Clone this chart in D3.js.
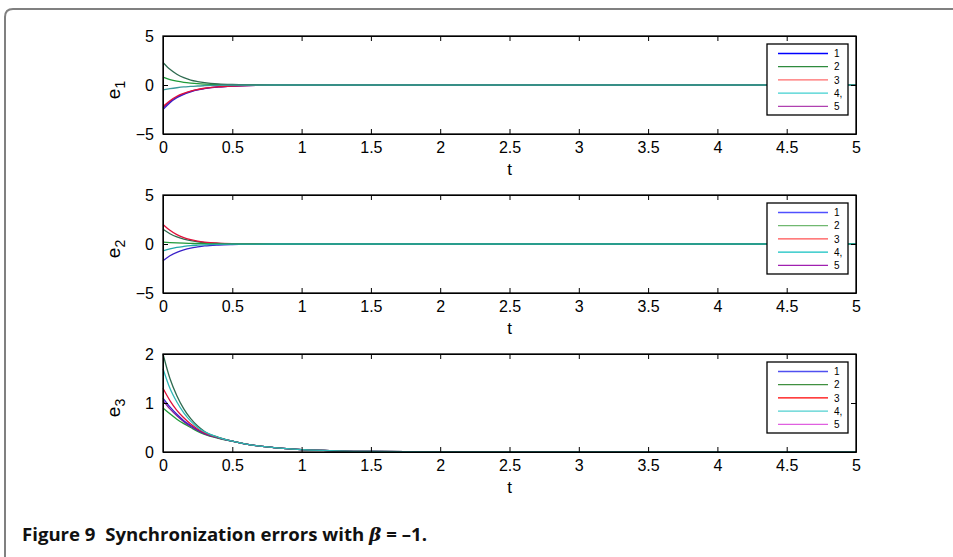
<!doctype html>
<html lang="en">
<head>
    <meta charset="utf-8">
    <title>Synchronization errors</title>
    <script src="https://cdnjs.cloudflare.com/ajax/libs/d3/7.8.5/d3.min.js"></script>
    <style>
        body { margin: 0; background: #fff; }
        svg { display: block; }
    </style>
</head>
<body>
<div id="chart"></div>
<script>

    // time samples
    var tA = [0, 0.05, 0.1, 0.15, 0.2, 0.25, 0.3, 0.4, 0.5, 0.6, 0.8, 1, 1.5, 5];
    var tB = [0, 0.05, 0.1, 0.15, 0.2, 0.25, 0.3, 0.4, 0.5, 0.6, 0.8, 1, 1.2, 1.5, 2, 5];

    // e1
    var e1DarkGreen = [2.3, 1.6, 1.1, 0.75, 0.5, 0.35, 0.24, 0.11, 0.05, 0.02, 0.005, 0, 0, 0];
    var e1Green     = [0.8, 0.56, 0.39, 0.27, 0.19, 0.13, 0.09, 0.04, 0.02, 0.01, 0, 0, 0, 0];
    var e1Red       = [-2.2, -1.6, -1.15, -0.85, -0.62, -0.46, -0.33, -0.18, -0.1, -0.05, -0.015, 0, 0, 0];
    var e1Purple    = [-2.35, -1.7, -1.22, -0.9, -0.66, -0.48, -0.35, -0.19, -0.1, -0.05, -0.015, 0, 0, 0];
    var e1Blue      = [-2.5, -1.8, -1.3, -0.95, -0.7, -0.5, -0.36, -0.19, -0.1, -0.05, -0.015, 0, 0, 0];
    var e1Teal      = [-0.5, -0.38, -0.28, -0.2, -0.15, -0.1, -0.07, -0.03, -0.015, -0.005, 0, 0, 0, 0];

    // e2
    var e2Red       = [2.0, 1.4, 0.95, 0.65, 0.45, 0.3, 0.2, 0.09, 0.04, 0.02, 0.005, 0, 0, 0];
    var e2DarkGreen = [1.5, 1.05, 0.72, 0.5, 0.34, 0.23, 0.15, 0.07, 0.03, 0.015, 0, 0, 0, 0];
    var e2Green     = [0.2, 0.15, 0.11, 0.08, 0.06, 0.04, 0.03, 0.01, 0, 0, 0, 0, 0, 0];
    var e2Blue      = [-1.7, -1.2, -0.85, -0.6, -0.42, -0.3, -0.2, -0.1, -0.05, -0.02, -0.005, 0, 0, 0];
    var e2Teal      = [-0.7, -0.5, -0.35, -0.25, -0.17, -0.12, -0.08, -0.04, -0.02, -0.01, 0, 0, 0, 0];

    // e3
    var e3DarkGreen = [2.0, 1.5, 1.15, 0.88, 0.68, 0.53, 0.42, 0.3, 0.22, 0.16, 0.09, 0.05, 0.03, 0.01, 0.003, 0];
    var e3Red       = [1.3, 1.05, 0.85, 0.7, 0.57, 0.47, 0.39, 0.29, 0.22, 0.16, 0.09, 0.05, 0.03, 0.01, 0.003, 0];
    var e3Blue      = [1.1, 0.92, 0.77, 0.64, 0.54, 0.45, 0.38, 0.29, 0.22, 0.16, 0.09, 0.05, 0.03, 0.01, 0.003, 0];
    var e3Purple    = [1.05, 0.88, 0.74, 0.62, 0.52, 0.44, 0.37, 0.29, 0.22, 0.16, 0.09, 0.05, 0.03, 0.01, 0.003, 0];
    var e3Green     = [0.9, 0.78, 0.67, 0.58, 0.5, 0.42, 0.36, 0.28, 0.22, 0.16, 0.09, 0.05, 0.03, 0.01, 0.003, 0];
    var e3Teal      = [1.7, 1.3, 1.02, 0.8, 0.63, 0.5, 0.41, 0.3, 0.22, 0.16, 0.09, 0.05, 0.03, 0.01, 0.003, 0];

    var xTicks = [0, 0.5, 1, 1.5, 2, 2.5, 3, 3.5, 4, 4.5, 5];
    var legendLabels = ["1", "2", "3", "4,", "5"];
    var legend1Colors = ["#0000ff", "#2e8b3e", "#ff6b6b", "#40d0d0", "#b040b0"];
    var legend2Colors = ["#5050ff", "#70b870", "#ff5050", "#10c0c0", "#a020b0"];
    var legend3Colors = ["#5050f0", "#409040", "#ff0000", "#50d0d0", "#e060e0"];

    var C = {dg: "#2f6b50", g: "#1f9a3a", r: "#e0103a", b: "#3a20c8", p: "#8a2090", t: "#3a9a9a"};

    var panels = [
        {top: 36, yDomain: [-5, 5], yTicks: [-5, 0, 5], sub: "1", t: tA,
         series: [[e1Purple, C.p], [e1Blue, C.b], [e1Red, C.r], [e1Green, C.g], [e1DarkGreen, C.dg], [e1Teal, C.t]],
         legend: legend1Colors},
        {top: 195, yDomain: [-5, 5], yTicks: [-5, 0, 5], sub: "2", t: tA,
         series: [[e2Blue, C.b], [e2DarkGreen, C.dg], [e2Red, C.r], [e2Green, C.g], [e2Teal, "#20a8a8"]],
         legend: legend2Colors},
        {top: 354, yDomain: [0, 2], yTicks: [0, 1, 2], sub: "3", t: tB,
         series: [[e3Green, C.g], [e3Purple, C.p], [e3Blue, C.b], [e3Red, C.r], [e3DarkGreen, C.dg], [e3Teal, "#30b8b8"]],
         legend: legend3Colors}
    ];

    var width = 953, height = 557;
    var x0 = 163, x1 = 856, ph = 98;
    var FONT = "'Liberation Sans', Arial, sans-serif";

    var svg = d3.select("#chart").append("svg")
        .attr("width", width)
        .attr("height", height);

    // figure frame (rounded top-left corner)
    svg.append("path")
        .attr("d", "M5,560 V17 Q5,9 13,9 H955")
        .attr("fill", "none")
        .attr("stroke", "#808080")
        .attr("stroke-width", 2);

    var x = d3.scaleLinear().domain([0, 5]).range([x0, x1]);

    panels.forEach(function(p) {
        var y = d3.scaleLinear().domain(p.yDomain).range([p.top + ph, p.top]);
        var g = svg.append("g");

        var line = d3.line()
            .x(function(d) { return x(d[0]); })
            .y(function(d) { return y(d[1]); })
            .curve(d3.curveMonotoneX);

        p.series.forEach(function(s) {
            g.append("path")
                .datum(p.t.map(function(tv, i) { return [tv, s[0][i]]; }))
                .attr("d", line)
                .attr("fill", "none")
                .attr("stroke", s[1])
                .attr("stroke-width", 1.3);
        });

        // axes, MATLAB style: ticks pointing inward on all sides
        g.append("g")
            .attr("transform", "translate(0," + (p.top + ph) + ")")
            .call(d3.axisBottom(x).tickValues(xTicks).tickFormat(d3.format("")).tickSize(-5).tickSizeOuter(0).tickPadding(8))
            .attr("font-size", 16).attr("font-family", FONT);
        g.append("g")
            .attr("transform", "translate(0," + p.top + ")")
            .call(d3.axisTop(x).tickValues(xTicks).tickFormat("").tickSize(-5).tickSizeOuter(0));
        g.append("g")
            .attr("transform", "translate(" + x0 + ",0)")
            .call(d3.axisLeft(y).tickValues(p.yTicks).tickFormat(function(d) { return d < 0 ? "\u2212" + Math.abs(d) : d; }).tickSize(-5).tickSizeOuter(0).tickPadding(9))
            .attr("font-size", 16).attr("font-family", FONT);
        g.append("g")
            .attr("transform", "translate(" + x1 + ",0)")
            .call(d3.axisRight(y).tickValues(p.yTicks).tickFormat("").tickSize(-5).tickSizeOuter(0));
        g.selectAll(".tick text").attr("fill", "#000");

        g.append("rect")
            .attr("x", x0).attr("y", p.top)
            .attr("width", x1 - x0).attr("height", ph)
            .attr("fill", "none").attr("stroke", "#000").attr("stroke-width", 1.3);

        // x label
        g.append("text")
            .attr("x", x(2.5)).attr("y", p.top + ph + 41)
            .attr("text-anchor", "middle")
            .attr("font-family", FONT).attr("font-size", 17)
            .text("t");

        // y label with subscript
        var yl = g.append("text")
            .attr("transform", "translate(120," + (p.top + ph / 2 + 5) + ") rotate(-90)")
            .attr("text-anchor", "middle")
            .attr("font-family", FONT).attr("font-size", 19);
        yl.append("tspan").text("e");
        yl.append("tspan").attr("dy", 5).attr("font-size", 14).text(p.sub);

        // legend
        var lg = g.append("g")
            .attr("transform", "translate(767," + (p.top + 8) + ")")
            .attr("font-family", FONT).attr("font-size", 10);
        lg.append("rect")
            .attr("width", 81).attr("height", 71)
            .attr("fill", "#fff").attr("stroke", "#000").attr("stroke-width", 1.3);
        legendLabels.forEach(function(lab, i) {
            var ly = 9.5 + i * 13.2;
            lg.append("line")
                .attr("x1", 11).attr("x2", 61).attr("y1", ly).attr("y2", ly)
                .attr("stroke", p.legend[i]).attr("stroke-width", 1.3);
            lg.append("text")
                .attr("x", 67).attr("y", ly + 3.6)
                .text(lab);
        });
    });

    // caption
    var cap = svg.append("text")
        .attr("x", 22).attr("y", 541)
        .attr("font-family", "'Open Sans', 'DejaVu Sans', sans-serif")
        .attr("font-weight", "bold")
        .attr("font-size", 18.6)
        .attr("fill", "#111");
    cap.append("tspan").text("Figure 9\u00a0\u00a0Synchronization errors with ");
    cap.append("tspan").attr("font-family", "'DejaVu Serif', serif").attr("font-style", "italic").text("\u03b2");
    cap.append("tspan").text(" = \u20131.");

</script>
</body>
</html>
